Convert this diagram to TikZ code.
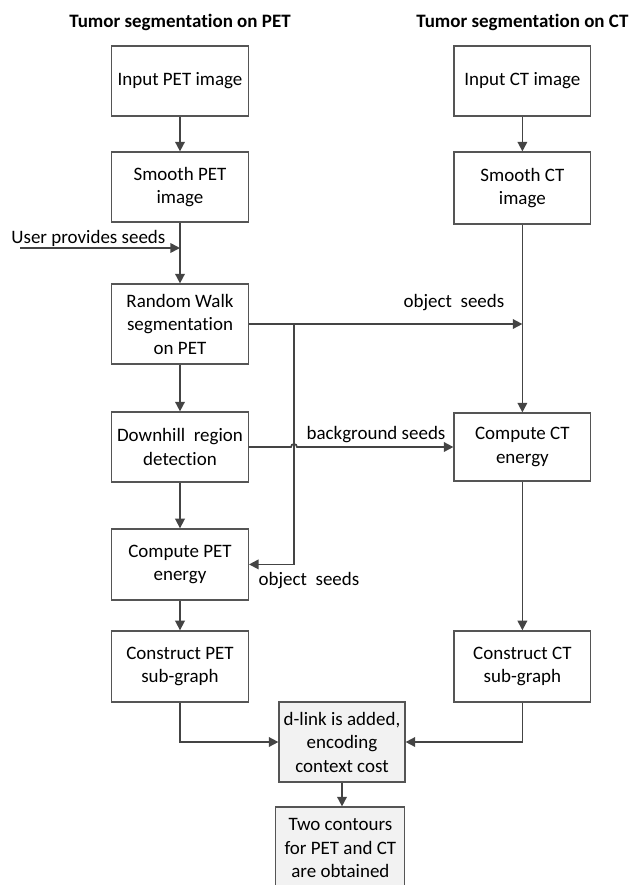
\documentclass[tikz,border=0pt]{standalone}
\usepackage{fontspec}
\setmainfont{Carlito}[Ligatures=NoCommon]
\usetikzlibrary{arrows.meta}
\definecolor{linecol}{RGB}{68,68,68}
\definecolor{boxcol}{RGB}{85,85,85}
\definecolor{greyfill}{RGB}{242,242,242}

\begin{document}
\begin{tikzpicture}[>={Triangle[width=0.24cm,length=0.24cm]},
    font=\fontsize{13.5}{16.7}\selectfont,
    box/.style={draw=boxcol,line width=0.85pt,align=center,inner sep=1pt,
      minimum width=3.42cm,minimum height=1.75cm},
    greybox/.style={box,fill=greyfill,minimum width=3.15cm,minimum height=2.0cm},
    flow/.style={->,draw=linecol,line width=1.2pt},
    lbl/.style={inner sep=0pt}]
  \useasboundingbox (0,0) rectangle (15.875,-22.125);
  % ---------------- PET column ------------------------------------------
  \node[lbl,font=\fontsize{13.5}{16.7}\selectfont\bfseries] (titlepet) at (4.5,-0.55)
      {Tumor segmentation on PET};
  \node[box] (inpet) at (4.5,-2.025) {Input PET image};
  \node[box] (smpet) at (4.5,-4.675) {Smooth PET\\image};
  \node[box,minimum height=2.0cm] (rwpet) at (4.5,-8.1)
      {Random Walk\\segmentation\\on PET};
  \node[box] (dhpet) at (4.5,-11.175) {Downhill\ \ region\\detection};
  \node[box,minimum height=1.775cm] (cepet) at (4.5,-14.11) {Compute PET\\energy};
  \node[box,minimum height=1.775cm] (cspet) at (4.5,-16.66) {Construct PET\\sub-graph};
  % ---------------- CT column -------------------------------------------
  \node[lbl,font=\fontsize{13.5}{16.7}\selectfont\bfseries] (titlect) at (13.06,-0.55)
      {Tumor segmentation on CT};
  \node[box] (inct) at (13.06,-2.025) {Input CT image};
  \node[box,minimum height=1.8cm] (smct) at (13.06,-4.7) {Smooth CT\\image};
  \node[box,minimum height=1.7cm] (cect) at (13.06,-11.175) {Compute CT\\energy};
  \node[box,minimum height=1.775cm] (csct) at (13.06,-16.66) {Construct CT\\sub-graph};
  % ---------------- joint graph -----------------------------------------
  \node[greybox] (dlink) at (8.55,-18.55) {d-link is added,\\encoding\\context cost};
  \node[greybox,minimum width=3.225cm,minimum height=2.05cm] (contours) at (8.51,-21.2)
      {Two contours\\for PET and CT\\are obtained};
  % ---------------- seeds and labels ------------------------------------
  \coordinate (user) at (0.5,-6.2);
  \coordinate (split) at (7.35,-8.1);
  \coordinate (hop) at (split |- dhpet.east);
  \node[lbl] (usertxt) at (2.21,-5.95) {User provides seeds};
  \node[lbl] (objtop) at (11.35,-7.575) {object\ \ seeds};
  \node[lbl] (bglab) at (9.4,-10.875) {background seeds};
  \node[lbl] (objlow) at (7.725,-14.525) {object\ \ seeds};
  % ---------------- connectors ------------------------------------------
  \draw[flow] (inpet) -- (smpet);
  \draw[flow] (smpet) -- (rwpet);
  \draw[flow] (user) -- (user -| smpet.south);
  \draw[flow] (rwpet) -- (dhpet);
  \draw[flow] (dhpet) -- (cepet);
  \draw[flow] (cepet) -- (cspet);
  \draw[flow] (inct) -- (smct);
  \draw[flow] (smct) -- (cect);
  \draw[flow] (cect) -- (csct);
  \draw[flow] (rwpet.east) -- (rwpet.east -| smct.south);
  \draw[flow] (split) |- (cepet.east);
  % line hop where background seeds cross the object seeds branch
  \draw[flow] (dhpet.east) -- ([xshift=-0.075cm]hop)
      arc[start angle=180,end angle=0,radius=0.075cm] -- (cect.west);
  \draw[flow] (cspet) |- (dlink);
  \draw[flow] (csct) |- (dlink);
  \draw[flow] (dlink.south) -- (dlink.south |- contours.north);
\end{tikzpicture}
\end{document}
